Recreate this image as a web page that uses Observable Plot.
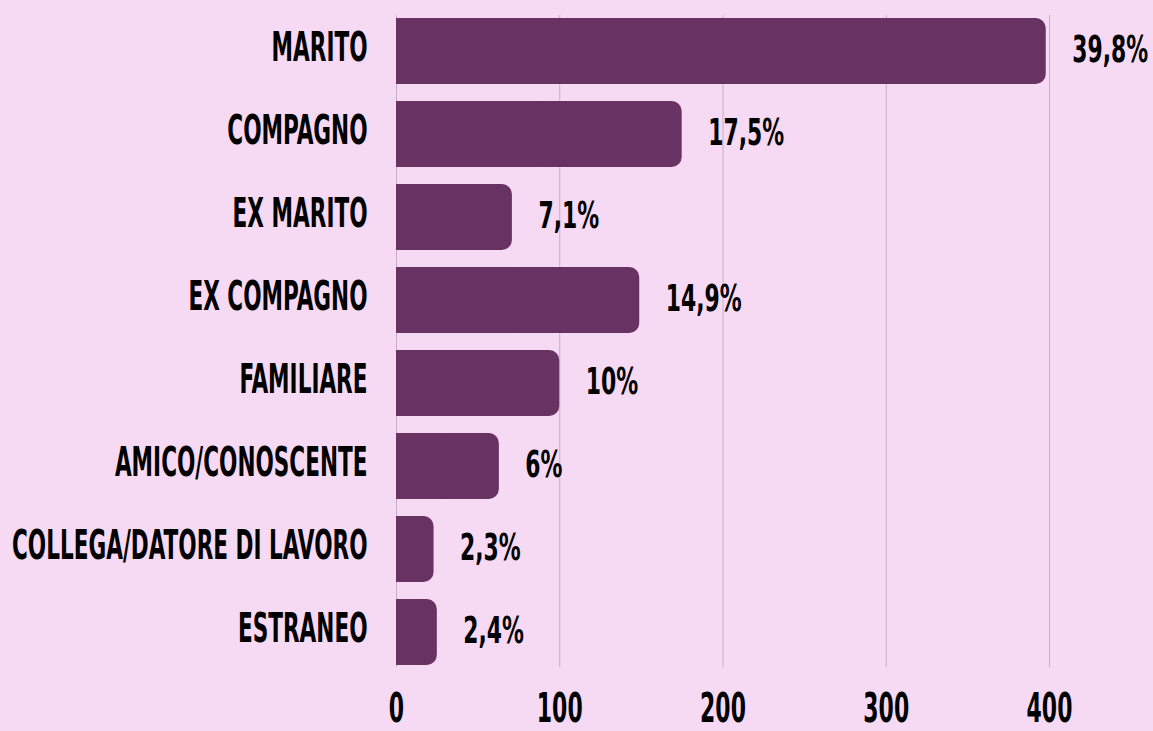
<!DOCTYPE html>
<html>
<head>
<meta charset="utf-8">
<script src="https://cdn.jsdelivr.net/npm/d3@7"></script>
<script src="https://cdn.jsdelivr.net/npm/@observablehq/plot@0.6"></script>
<style>
  html, body { margin: 0; padding: 0; background: #f6d9f2; }
  #chart svg { display: block; }
</style>
</head>
<body>
<div id="chart"></div>
<script>
const categories = ["MARITO", "COMPAGNO", "EX MARITO", "EX COMPAGNO", "FAMILIARE", "AMICO/CONOSCENTE", "COLLEGA/DATORE DI LAVORO", "ESTRANEO"];
const values = [398, 175, 71, 149, 100, 63, 23, 25];
const valueLabels = ["39,8%", "17,5%", "7,1%", "14,9%", "10%", "6%", "2,3%", "2,4%"];
const xTicks = [0, 100, 200, 300, 400];

const data = categories.map((c, i) => ({cat: c, value: values[i], label: valueLabels[i]}));

const barColor = "#683262";
const font = "'DejaVu Sans Condensed', 'Liberation Sans Narrow', 'Liberation Sans', sans-serif";

const chart = Plot.plot({
  width: 1153,
  height: 731,
  marginLeft: 396,
  marginRight: 104,
  marginTop: 15,
  marginBottom: 64,
  style: {background: "#f6d9f2", fontFamily: font, fontWeight: "bold", color: "#000", overflow: "visible"},
  x: {domain: [0, 400]},
  y: {domain: categories, paddingInner: 0.21, paddingOuter: 0},
  marks: [
    Plot.gridX(xTicks, {stroke: "#c9adc6", strokeOpacity: 1, strokeWidth: 1}),
    Plot.barX(data, {x: "value", y: "cat", fill: barColor, rx: 10}),
    Plot.barX(data, {x: d => d.value / 2, y: "cat", fill: barColor}),
    Plot.text(data, {x: "value", y: "cat", text: "label", textAnchor: "start", dx: 26, dy: -2, fontSize: 38, fontWeight: "bold", fill: "#000"}),
    Plot.axisX({ticks: xTicks, tickSize: 0, tickPadding: 26, fontSize: 40, fontWeight: "bold", label: null, tickFormat: d => String(d)}),
    Plot.axisY({tickSize: 0, tickPadding: 29, fontSize: 40, fontWeight: "bold", label: null, dy: -3})
  ]
});

document.getElementById("chart").appendChild(chart);

// condense glyphs to mimic a narrow display typeface
function squeeze(selector, f) {
  d3.select(chart).selectAll(selector).each(function() {
    const len = this.getComputedTextLength();
    if (len > 0) {
      this.setAttribute("textLength", (len * f).toFixed(1));
      this.setAttribute("lengthAdjust", "spacingAndGlyphs");
    }
  });
}
squeeze('g[aria-label="y-axis tick label"] text', 0.6);
squeeze('g[aria-label="x-axis tick label"] text', 0.61);
squeeze('g[aria-label="text"] text', 0.64);
</script>
</body>
</html>
